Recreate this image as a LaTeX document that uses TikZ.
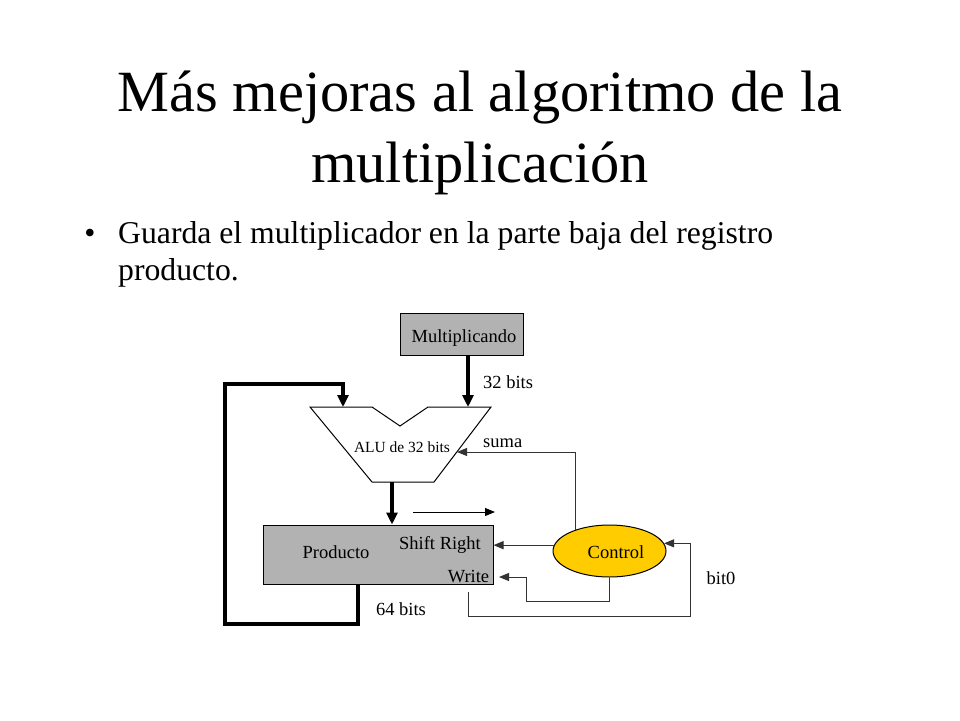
\documentclass[tikz,border=0pt]{standalone}
\usepackage{fontspec}
\setmainfont{Liberation Serif}
\usetikzlibrary{arrows.meta,shapes.geometric}
\definecolor{boxgray}{RGB}{178,178,178}
\definecolor{ctrlgold}{RGB}{255,204,0}
\tikzset{
  lbl/.style={inner sep=0pt,font=\fontsize{18.5}{20}\selectfont},
  thickarr/.style={line width=4pt,-{Triangle[width=11pt,length=12pt]},line join=miter},
  thinarr/.style={line width=1pt,black!80,-{Triangle[width=8pt,length=10pt]}},
  regbox/.style={draw=black,line width=1pt,fill=boxgray,inner sep=0pt},
}
\begin{document}
\begin{tikzpicture}[x=1pt,y=-1pt]
\useasboundingbox (0,0) rectangle (960,720);
\fill[white] (0,0) rectangle (960,720);

% title
\node[anchor=base,inner sep=0pt,font=\fontsize{58.4}{70}\selectfont] (t1) at (480,111) {Más mejoras al algoritmo de la};
\node[anchor=base,inner sep=0pt,font=\fontsize{58.4}{70}\selectfont] (t2) at (480,182) {multiplicación};

% bullet text
\node[anchor=base,inner sep=0pt,font=\fontsize{31.7}{36}\selectfont] (bul) at (90,243) {•};
\node[anchor=base west,inner sep=0pt,font=\fontsize{31.7}{36}\selectfont] (s1) at (118,243) {Guarda el multiplicador en la parte baja del registro};
\node[anchor=base west,inner sep=0pt,font=\fontsize{31.7}{36}\selectfont] (s2) at (118,280) {producto.};

% Multiplicando register
\node[regbox,minimum width=123pt,minimum height=42pt] (mult) at (461.5,334) {};
\node[lbl] (multt) at (464,338) {Multiplicando};

% ALU
\coordinate (aluL) at (343,407);
\coordinate (aluR) at (468,407);
\coordinate (aluB) at (392,482);
\coordinate (aluS) at (457,452);
\draw[line width=1pt,line join=miter] (310,407) -- (372,407) -- (400,426) -- (428,407) -- (491,407) -- (434,482) -- (372,482) -- cycle;
\node[inner sep=0pt,font=\fontsize{15.5}{17}\selectfont] (alut) at (402,447) {ALU de 32 bits};

% Producto register
\node[regbox,minimum width=230pt,minimum height=59pt] (prod) at (378,554.5) {};
\node[lbl] (prodt) at (336,552) {Producto};
\node[lbl] (shr) at (440,545) {Shift Right};
\node[lbl] (wr) at (468.5,577) {Write};

% Control
\node[ellipse,draw=black,line width=1pt,fill=ctrlgold,minimum width=113pt,minimum height=52pt,inner sep=0pt] (ctrl) at (609.5,551) {};
\node[lbl] (ctrlt) at (616,552) {Control};

% labels
\node[lbl,anchor=west] (b32) at (483,382) {32 bits};
\node[lbl,anchor=west] (suma) at (483,443) {suma};
\node[lbl] (b64) at (401,609) {64 bits};
\node[lbl] (bit0) at (721,578) {bit0};

% thick datapaths
\draw[thickarr] (mult.south -| aluR) -- (aluR);
\coordinate (fbA) at (358,624);
\coordinate (fbB) at (225,624);
\coordinate (fbC) at (343,384);
\draw[thickarr] (prod.south -| fbA) -- (fbA) -- (fbB) |- (fbC) -- (aluL);
\draw[thickarr] (aluB) -- (prod.north -| aluB);

% shift direction arrow
\coordinate (sh1) at (413,512);
\coordinate (sh2) at (495,512);
\draw[line width=1pt,-{Triangle[width=8pt,length=10pt]}] (sh1) -- (sh2);

% control signals
\draw[thinarr] (ctrl.148.7) |- (aluS);
\draw[thinarr] (ctrl.174) -- (ctrl.174 -| prod.east);
\coordinate (wC) at (526,601);
\coordinate (wT) at (499,577);
\draw[thinarr] (ctrl.south) |- (wC) |- (wT);
\coordinate (b0) at (468,592);
\coordinate (b1) at (690,616);
\draw[thinarr] (b0) |- (b1) |- (ctrl.8);
\end{tikzpicture}
\end{document}
